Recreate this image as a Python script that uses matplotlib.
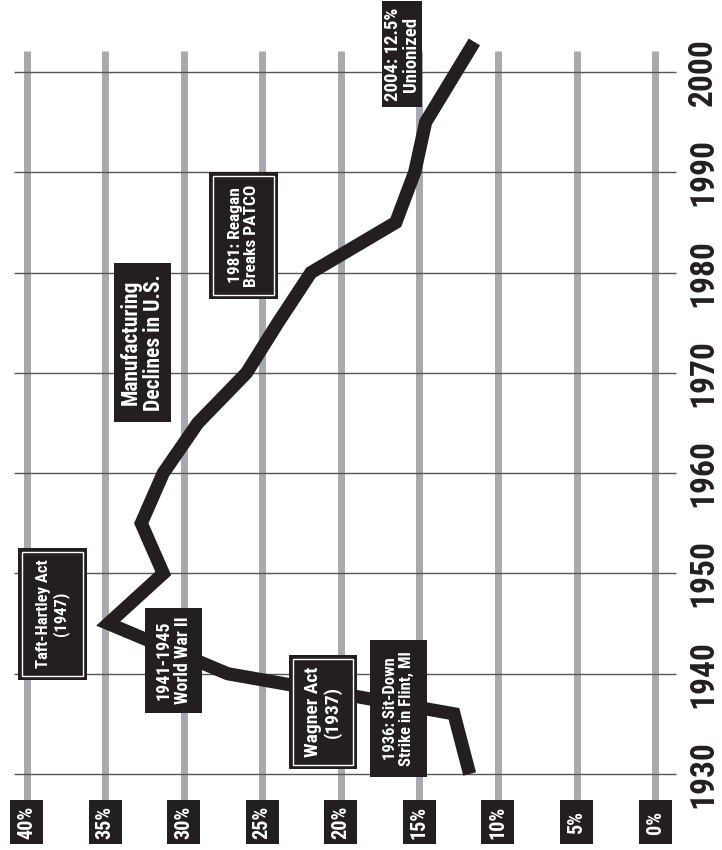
import matplotlib
matplotlib.use("Agg")
import matplotlib.pyplot as plt
from matplotlib.patches import Rectangle
from matplotlib import font_manager

# union membership (% of workforce) by year
years = [1930, 1936, 1940, 1945, 1950, 1955, 1960, 1965, 1970, 1975, 1980, 1985, 1990, 1995, 2003]
union_pct = [11.8, 12.8, 27.2, 34.8, 31.3, 32.7, 31.3, 29.1, 26.0, 24.0, 21.9, 16.5, 15.3, 14.6, 11.5]

pct_ticks = [40, 35, 30, 25, 20, 15, 10, 5, 0]
pct_labels = ["40%", "35%", "30%", "25%", "20%", "15%", "10%", "5%", "0%"]
year_ticks = [1930, 1940, 1950, 1960, 1970, 1980, 1990, 2000]

note_texts = [
    "Taft-Hartley Act\n(1947)",
    "1941-1945\nWorld War II",
    "Wagner Act\n(1937)",
    "1936: Sit-Down\nStrike in Flint, MI",
    "Manufacturing\nDeclines in U.S.",
    "1981: Reagan\nBreaks PATCO",
    "2004: 12.5%\nUnionized",
]

# layout of the notes: centre (pct, year), box w/h in px, double border, font size
note_layout = [
    (38.35, 1945.96, 69, 132, True, 12),
    (30.65, 1941.32, 57, 105, False, 13),
    (21.13, 1936.23, 68, 114, True, 14),
    (16.33, 1936.53, 57, 137, False, 12),
    (32.62, 1973.03, 57, 159, False, 15.5),
    (26.19, 1983.70, 69, 127, True, 12.5),
    (16.10, 2001.75, 40, 106, False, 13.5),
]

INK = "#231f20"
GREY = "#a7a9ac"
PX_PER_PCT = 15.71
PX_PER_YR = 10.029

# pick a narrow face if one is installed
names = {f.name for f in font_manager.fontManager.ttflist}
narrow = [n for n in ["Liberation Sans Narrow", "DejaVu Sans Condensed", "Roboto Condensed"]
          if n in names]
FONT = narrow + ["DejaVu Sans"]

fig = plt.figure(figsize=(7.22, 8.5), dpi=100)
ax = fig.add_axes([0, 0, 1, 1])
ax.set_xlim(41.69, -4.26)
ax.set_ylim(1922.42, 2007.18)
ax.axis("off")

# grey percent lines and thin year lines
ax.vlines(pct_ticks, 1926, 2002.1, color=GREY, lw=5, zorder=1)
ax.hlines(year_ticks, 40.8, -1.34, color="#555555", lw=1, zorder=2)

ax.plot(union_pct, years, color=INK, lw=9.5, solid_joinstyle="miter",
        solid_capstyle="butt", zorder=3)


def box(cx, cy, w, h, double=False):
    wd, hd = w / PX_PER_PCT, h / PX_PER_YR
    ax.add_patch(Rectangle((cx - wd / 2, cy - hd / 2), wd, hd, fc=INK, ec=INK,
                           lw=0, zorder=4))
    if double:
        i = 4
        wi, hi = (w - 2 * i) / PX_PER_PCT, (h - 2 * i) / PX_PER_YR
        ax.add_patch(Rectangle((cx - wi / 2, cy - hi / 2), wi, hi, fc="none",
                               ec="white", lw=1, zorder=5))


for txt, (p, y, w, h, dbl, size) in zip(note_texts, note_layout):
    box(p, y, w, h, dbl)
    ax.text(p, y, txt, rotation=90, ha="center", va="center", color="white",
            family=FONT, fontstretch="condensed", fontweight="bold", fontsize=size,
            linespacing=1.0 if w < 45 else 1.1, multialignment="center", zorder=6,
            rotation_mode="anchor")

# percent labels in black tabs along the bottom
for p, lab in zip(pct_ticks, pct_labels):
    box(p, 1925.2, 33, 44)
    ax.text(p, 1925.2, lab, rotation=90, ha="center", va="center", color="white",
            family=FONT, fontstretch="condensed", fontweight="bold", fontsize=14.5,
            zorder=6, rotation_mode="anchor")

# year labels down the right side
for yr in year_ticks:
    ax.text(-3.06, yr, str(yr), rotation=90, ha="center", va="center", color=INK,
            family=FONT, fontstretch="condensed", fontweight="bold", fontsize=24,
            rotation_mode="anchor")

fig.savefig("out.png", dpi=100, facecolor="white")
